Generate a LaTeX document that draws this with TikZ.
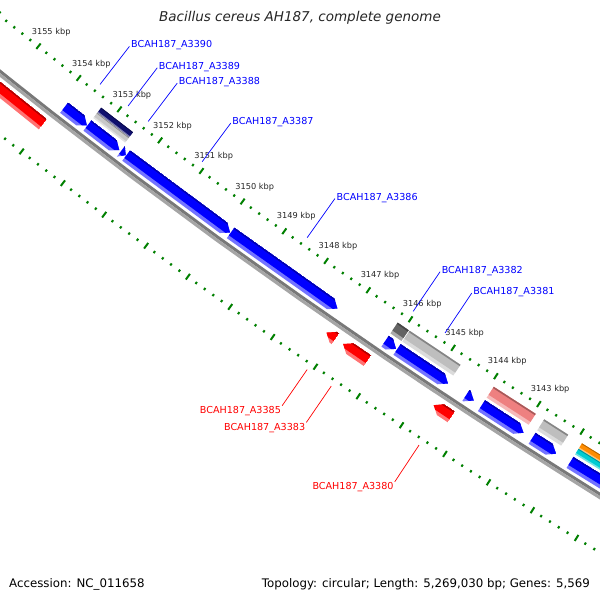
\documentclass[tikz,border=0pt]{standalone}
\usepackage{fontspec}
\setmainfont{DejaVu Sans}
\usepackage{tikz}

\definecolor{fwdblue}{RGB}{0,0,255}
\definecolor{revred}{RGB}{255,0,0}
\definecolor{tickgreen}{RGB}{0,128,0}
\definecolor{axisdark}{RGB}{120,120,120}
\definecolor{axislight}{RGB}{165,165,165}
\definecolor{cognavy}{RGB}{15,15,110}
\definecolor{coglight}{RGB}{200,200,200}
\definecolor{cogdark}{RGB}{100,100,100}
\definecolor{coggray}{RGB}{190,190,190}
\definecolor{cogpink}{RGB}{238,128,128}
\definecolor{cogorange}{RGB}{255,140,0}
\definecolor{cogcyan}{RGB}{0,204,210}

% kbp -> angle on the map circle (centre far above right)
\tikzset{declare function={ang(\b)=126.03+(\b-3150)*0.4675;}}

% feature block: #1,#2 ends (kbp), #3 inner radius, #4 outer radius, #5 colour
\newcommand{\featbox}[5]{%
  \pgfmathsetmacro\lightr{#4-0.27*(#4-#3)}%
  \pgfmathsetmacro\darkr{#3+0.12*(#4-#3)}%
  \fill[#5!55!white] ({ang(#1)}:#3) -- ({ang(#2)}:#3) -- ({ang(#2)}:#4) -- ({ang(#1)}:#4) -- cycle;
  \fill[#5] ({ang(#1)}:#3) -- ({ang(#2)}:#3) -- ({ang(#2)}:\lightr) -- ({ang(#1)}:\lightr) -- cycle;
  \fill[#5!70!black] ({ang(#1)}:#3) -- ({ang(#2)}:#3) -- ({ang(#2)}:\darkr) -- ({ang(#1)}:\darkr) -- cycle;
}
% gene arrow: #1 tail, #2 tip (kbp), #3,#4 radii, #5 colour
\newcommand{\featarrow}[5]{%
  \pgfmathsetmacro\headk{#2+sign(#1-#2)*min(0.16,abs(#1-#2))}%
  \pgfmathsetmacro\midr{(#3+#4)/2}%
  \begin{scope}
    \clip ({ang(#1)}:#3) -- ({ang(\headk)}:#3) -- ({ang(#2)}:\midr) -- ({ang(\headk)}:#4) -- ({ang(#1)}:#4) -- cycle;
    \featbox{#1}{#2}{#3}{#4}{#5}
  \end{scope}}

\begin{document}
\begin{tikzpicture}[x=1pt, y=-1pt,
    majortick/.style={tickgreen, line width=2pt},
    minortick/.style={tickgreen, line width=2pt},
    ticklabel/.style={inner sep=0pt, xshift=1.5pt, text=black!85, font=\fontsize{8.2}{9}\selectfont},
    fwdleader/.style={fwdblue, line width=0.7pt},
    revleader/.style={revred, line width=0.7pt},
    fwdlabel/.style={anchor=base west, inner sep=0pt, xshift=1.5pt, yshift=-1.5pt,
                     text=fwdblue, font=\fontsize{9.6}{11}\selectfont},
    revlabel/.style={anchor=north east, inner sep=0pt, xshift=-1pt, yshift=-0.5pt,
                     text=revred, font=\fontsize{9.6}{11}\selectfont},
  ]
  \useasboundingbox (0,0) rectangle (600,600);
  \fill[white] (0,0) rectangle (600,600);

  \begin{scope}
  \clip (0,0) rectangle (600,600);
  \begin{scope}[shift={(3940,-4882)}]

    % tick rings, one mark every 200 bp
    \foreach \i in {0,...,90}{
      \pgfmathsetmacro\k{3140+\i/5}
      \pgfmathtruncatemacro\m{mod(\i,5)}
      \ifnum\m=0
        \draw[majortick] ({ang(\k)}:6282.5) -- ({ang(\k)}:6289.5);
        \draw[majortick] ({ang(\k)}:6375.5) -- ({ang(\k)}:6382.5);
      \else
        \draw[minortick] ({ang(\k)}:6285) -- ({ang(\k)}:6287.5);
        \draw[minortick] ({ang(\k)}:6378) -- ({ang(\k)}:6380.5);
      \fi
    }
    \foreach \k in {3143,...,3155}
      \node[ticklabel] (kbp\k) at ({ang(\k)}:6268) {\k\ kbp};

    % backbone
    \draw[axisdark, line width=3pt] ({ang(3158)}:6329.5)
      \foreach \k in {3157,...,3139}{ -- ({ang(\k)}:6329.5) };
    \draw[axislight, line width=3pt] ({ang(3158)}:6332.5)
      \foreach \k in {3157,...,3139}{ -- ({ang(\k)}:6332.5) };

    % forward genes
    \foreach \s/\e in {3153.87/3153.31, 3153.30/3152.52, 3152.48/3152.36,
                       3152.35/3149.84, 3149.83/3147.29, 3146.17/3145.91,
                       3145.89/3144.70, 3144.28/3144.10, 3143.92/3142.95,
                       3142.75/3142.20, 3141.88/3139.50}
      \featarrow{\s}{\e}{6312}{6325}{fwdblue};

    % reverse genes
    \foreach \s/\e in {3154.00/3157.50, 3146.99/3147.20,
                       3146.24/3146.81, 3144.29/3144.70}
      \featarrow{\s}{\e}{6338}{6351}{revred};

    % COG categories
    \featbox{3153.30}{3152.52}{6296}{6302.5}{cognavy}
    \featbox{3153.30}{3152.52}{6302.5}{6309}{coglight}
    \featbox{3146.17}{3145.91}{6296}{6309}{cogdark}
    \featbox{3145.89}{3144.70}{6296}{6309}{coggray}
    \featbox{3143.92}{3142.95}{6296}{6309}{cogpink}
    \featbox{3142.75}{3142.20}{6296}{6309}{coggray}
    \featbox{3141.88}{3139.50}{6296}{6302.5}{cogorange}
    \featbox{3141.88}{3139.50}{6302.5}{6309}{cogcyan}

    % labels
    \foreach \k/\tag in {3153.594/3390, 3152.904/3389, 3152.41/3388, 3151.095/3387,
                         3148.565/3386, 3146.045/3382, 3145.293/3381}{
      \coordinate (g\tag) at ({ang(\k)}:6278);
      \coordinate (e\tag) at ({ang(\k)}:6230);
      \draw[fwdleader] (g\tag) -- (e\tag);
      \node[fwdlabel] (A\tag) at (e\tag) {BCAH187\_A\tag};
    }
    \foreach \k/\tag in {3147.10/3385, 3146.54/3383, 3144.51/3380}{
      \coordinate (g\tag) at ({ang(\k)}:6386);
      \coordinate (e\tag) at ({ang(\k)}:6430);
      \draw[revleader] (g\tag) -- (e\tag);
      \node[revlabel] (A\tag) at (e\tag) {BCAH187\_A\tag};
    }
  \end{scope}
  \end{scope}

  \node[font=\fontsize{13.5}{16}\selectfont\itshape, text=black!85] (title) at (300,18)
    {Bacillus cereus AH187, complete genome};
  \node[anchor=base west, inner sep=0pt, font=\fontsize{11.8}{14}\selectfont] (accession) at (9,587)
    {Accession: NC\_011658};
  \node[anchor=base east, inner sep=0pt, font=\fontsize{11.8}{14}\selectfont] (topology) at (590,587)
    {Topology: circular; Length: 5,269,030 bp; Genes: 5,569};
\end{tikzpicture}
\end{document}
